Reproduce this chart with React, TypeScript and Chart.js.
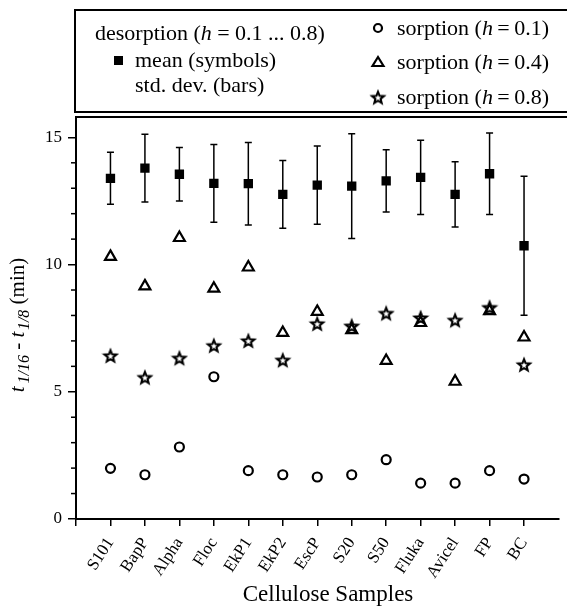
import { useEffect, useRef } from 'react';
import { Chart, registerables } from 'chart.js';

Chart.register(...registerables);

const categories = ['S101', 'BapP', 'Alpha', 'Floc', 'EkP1', 'EkP2', 'EscP', 'S20', 'S50', 'Fluka', 'Avicel', 'FP', 'BC'];
const desorptionMean = [13.39, 13.79, 13.55, 13.19, 13.18, 12.76, 13.12, 13.08, 13.29, 13.43, 12.76, 13.57, 10.74];
const desorptionStd = [1.02, 1.33, 1.05, 1.53, 1.62, 1.33, 1.54, 2.06, 1.22, 1.46, 1.28, 1.6, 2.73];
const sorption01 = [1.99, 1.74, 2.83, 5.59, 1.9, 1.74, 1.65, 1.74, 2.33, 1.41, 1.41, 1.9, 1.57];
const sorption04 = [10.31, 9.15, 11.05, 9.06, 9.89, 7.32, 8.15, 7.43, 6.22, 7.71, 5.4, 8.18, 7.14];
const sorption08 = [6.41, 5.56, 6.32, 6.81, 7.0, 6.24, 7.67, 7.58, 8.08, 7.9, 7.81, 8.31, 6.06];
const xTickValues = [0, 1, 2, 3, 4, 5, 6, 7, 8, 9, 10, 11, 12, 13];
const yTickValues = [0, 5, 10, 15];
const yMinorTickValues = [1, 2, 3, 4, 6, 7, 8, 9, 11, 12, 13, 14];

const SERIF = "'Liberation Serif', 'Times New Roman', Times, serif";

function makeStar(): HTMLCanvasElement {
  const c = document.createElement('canvas');
  c.width = 18;
  c.height = 18;
  const ctx = c.getContext('2d')!;
  const cx = 9, cy = 9.5, R = 6.2, r = 2.7;
  ctx.beginPath();
  for (let k = 0; k < 10; k++) {
    const ang = -Math.PI / 2 + (k * Math.PI) / 5;
    const rad = k % 2 === 0 ? R : r;
    const px = cx + rad * Math.cos(ang);
    const py = cy + rad * Math.sin(ang);
    if (k === 0) ctx.moveTo(px, py);
    else ctx.lineTo(px, py);
  }
  ctx.closePath();
  ctx.lineWidth = 2.1;
  ctx.lineJoin = 'miter';
  ctx.strokeStyle = '#000';
  ctx.stroke();
  return c;
}

type Part = { t: string; f: string; dy?: number; gap?: number };

function drawRich(ctx: CanvasRenderingContext2D, x: number, y: number, parts: Part[]) {
  let cx = x;
  for (const p of parts) {
    ctx.font = p.f;
    ctx.fillText(p.t, cx, y + (p.dy || 0));
    cx += ctx.measureText(p.t).width + (p.gap || 0);
  }
  return cx;
}

function richWidth(ctx: CanvasRenderingContext2D, parts: Part[]) {
  let w = 0;
  for (const p of parts) {
    ctx.font = p.f;
    w += ctx.measureText(p.t).width + (p.gap || 0);
  }
  return w;
}

export default function App() {
  const ref = useRef<HTMLCanvasElement>(null);

  useEffect(() => {
    const canvas = ref.current!;
    const star = makeStar();
    let chart: Chart | null = null;
    let cancelled = false;

    const decorPlugin = {
      id: 'decor',
      beforeDatasetsDraw(chart: any) {
        const ctx = chart.ctx as CanvasRenderingContext2D;
        const xs = chart.scales.x;
        const ys = chart.scales.y;
        ctx.save();
        ctx.strokeStyle = '#000';
        ctx.lineWidth = 1.5;
        desorptionMean.forEach((m, i) => {
          const px = xs.getPixelForValue(i + 1);
          const top = ys.getPixelForValue(m + desorptionStd[i]);
          const bot = ys.getPixelForValue(m - desorptionStd[i]);
          ctx.beginPath();
          ctx.moveTo(px, top);
          ctx.lineTo(px, bot);
          ctx.moveTo(px - 3.5, top);
          ctx.lineTo(px + 3.5, top);
          ctx.moveTo(px - 3.5, bot);
          ctx.lineTo(px + 3.5, bot);
          ctx.stroke();
        });
        ctx.restore();
      },
      afterDraw(chart: any) {
        const ctx = chart.ctx as CanvasRenderingContext2D;
        const area = chart.chartArea;
        const ys = chart.scales.y;
        ctx.save();
        ctx.strokeStyle = '#000';
        ctx.fillStyle = '#000';

        ctx.lineWidth = 2;
        ctx.beginPath();
        ctx.moveTo(area.left - 1, area.top);
        ctx.lineTo(chart.width + 2, area.top);
        ctx.stroke();

        ctx.lineWidth = 1.5;
        yMinorTickValues.forEach((v) => {
          const py = ys.getPixelForValue(v);
          ctx.beginPath();
          ctx.moveTo(area.left - 5, py);
          ctx.lineTo(area.left, py);
          ctx.stroke();
        });

        ctx.lineWidth = 2;
        ctx.strokeRect(area.left - 1, 10, chart.width + 10, 102);

        const F = '22px ' + SERIF;
        const FI = 'italic 22px ' + SERIF;
        ctx.textBaseline = 'middle';
        ctx.textAlign = 'left';
        drawRich(ctx, 95, 34, [
          { t: 'desorption (', f: F },
          { t: 'h', f: FI },
          { t: ' = 0.1 ... 0.8)', f: F },
        ]);
        ctx.font = F;
        ctx.fillText('mean (symbols)', 135, 61);
        ctx.fillText('std. dev. (bars)', 135, 86);
        ctx.fillRect(114, 56, 9, 9);

        const rows = [
          { y: 29, v: '0.1' },
          { y: 63, v: '0.4' },
          { y: 98, v: '0.8' },
        ];
        rows.forEach((r) => {
          drawRich(ctx, 397, r.y, [
            { t: 'sorption (', f: F },
            { t: 'h', f: FI },
            { t: '\u2009=\u2009' + r.v + ')', f: F },
          ]);
        });
        ctx.lineWidth = 2.2;
        ctx.beginPath();
        ctx.arc(378, 28, 4, 0, Math.PI * 2);
        ctx.stroke();
        ctx.beginPath();
        ctx.moveTo(378, 57);
        ctx.lineTo(383.5, 66);
        ctx.lineTo(372.5, 66);
        ctx.closePath();
        ctx.stroke();
        ctx.drawImage(star, 378 - 9, 98 - 9.5);

        ctx.font = '23px ' + SERIF;
        ctx.textAlign = 'center';
        ctx.textBaseline = 'middle';
        ctx.fillText('Cellulose Samples', 328, 595);

        const parts: Part[] = [
          { t: 't', f: 'italic 21px ' + SERIF, gap: 3 },
          { t: '1/16', f: 'italic 16px ' + SERIF, dy: 5 },
          { t: ' - ', f: '21px ' + SERIF },
          { t: 't', f: 'italic 21px ' + SERIF, gap: 1.5 },
          { t: '1/8', f: 'italic 16px ' + SERIF, dy: 5 },
          { t: ' (min)', f: '21px ' + SERIF },
        ];
        ctx.translate(24, 325);
        ctx.rotate(-Math.PI / 2);
        ctx.textAlign = 'left';
        ctx.textBaseline = 'alphabetic';
        const w = richWidth(ctx, parts);
        drawRich(ctx, -w / 2, 0, parts);
        ctx.restore();
      },
    };

    const build = () => {
      if (cancelled) return;
      chart = new Chart(canvas, {
        type: 'scatter',
        data: {
          datasets: [
            {
              label: 'sorption (h=0.8)',
              data: sorption08.map((y, i) => ({ x: i + 1, y })),
              pointStyle: star as any,
              pointRadius: 6,
              order: 0,
            },
            {
              label: 'sorption (h=0.4)',
              data: sorption04.map((y, i) => ({ x: i + 1, y })),
              pointStyle: 'triangle',
              pointRadius: 6.3,
              borderWidth: 2.2,
              borderColor: '#000',
              backgroundColor: 'rgba(0,0,0,0)',
              order: 1,
            },
            {
              label: 'sorption (h=0.1)',
              data: sorption01.map((y, i) => ({ x: i + 1, y })),
              pointStyle: 'circle',
              pointRadius: 4.5,
              borderWidth: 2.2,
              borderColor: '#000',
              backgroundColor: 'rgba(0,0,0,0)',
              order: 2,
            },
            {
              label: 'desorption mean',
              data: desorptionMean.map((y, i) => ({ x: i + 1, y })),
              pointStyle: 'rect',
              pointRadius: 6.6,
              borderWidth: 0,
              backgroundColor: '#000',
              borderColor: '#000',
              order: 3,
            },
          ],
        },
        options: {
          animation: false,
          responsive: false,
          devicePixelRatio: 1,
          events: [],
          layout: { padding: { top: 117, left: 0, right: 0, bottom: 0 } },
          plugins: {
            legend: { display: false },
            tooltip: { enabled: false },
          },
          scales: {
            x: {
              type: 'linear',
              min: 0,
              max: 14,
              afterBuildTicks: (s: any) => {
                s.ticks = xTickValues.map((v) => ({ value: v }));
              },
              afterFit: (s: any) => {
                s.height = 87;
                s.paddingLeft = 0;
                s.paddingRight = 0;
              },
              ticks: {
                autoSkip: false,
                minRotation: 57,
                maxRotation: 57,
                color: '#000',
                padding: 8,
                font: { family: SERIF, size: 17 },
                callback: (v: any) => categories[Number(v) - 1] ?? '',
              },
              grid: { drawOnChartArea: false, drawTicks: true, tickLength: 7, color: '#000', lineWidth: 1.5 },
              border: { display: true, color: '#000', width: 2 },
            },
            y: {
              type: 'linear',
              min: 0,
              max: 15.8,
              afterBuildTicks: (s: any) => {
                s.ticks = yTickValues.map((v) => ({ value: v }));
              },
              afterFit: (s: any) => {
                s.width = 76;
              },
              ticks: {
                color: '#000',
                padding: 6,
                font: { family: SERIF, size: 17 },
              },
              grid: { drawOnChartArea: false, drawTicks: true, tickLength: 8, color: '#000', lineWidth: 1.5 },
              border: { display: true, color: '#000', width: 2 },
            },
          },
        },
        plugins: [decorPlugin],
      });
    };

    const fontsApi = (document as any).fonts;
    if (fontsApi && fontsApi.load) {
      Promise.all([
        fontsApi.load("22px 'Liberation Serif'"),
        fontsApi.load("italic 22px 'Liberation Serif'"),
      ])
        .catch(() => null)
        .then(() => build());
    } else {
      build();
    }
    return () => {
      cancelled = true;
      if (chart) chart.destroy();
    };
  }, []);

  return (
    <div style={{ position: 'absolute', left: 0, top: 0, width: 567, height: 606, overflow: 'hidden', background: '#fff' }}>
      <canvas ref={ref} width={567} height={606} style={{ display: 'block', width: 567, height: 606 }} />
    </div>
  );
}
